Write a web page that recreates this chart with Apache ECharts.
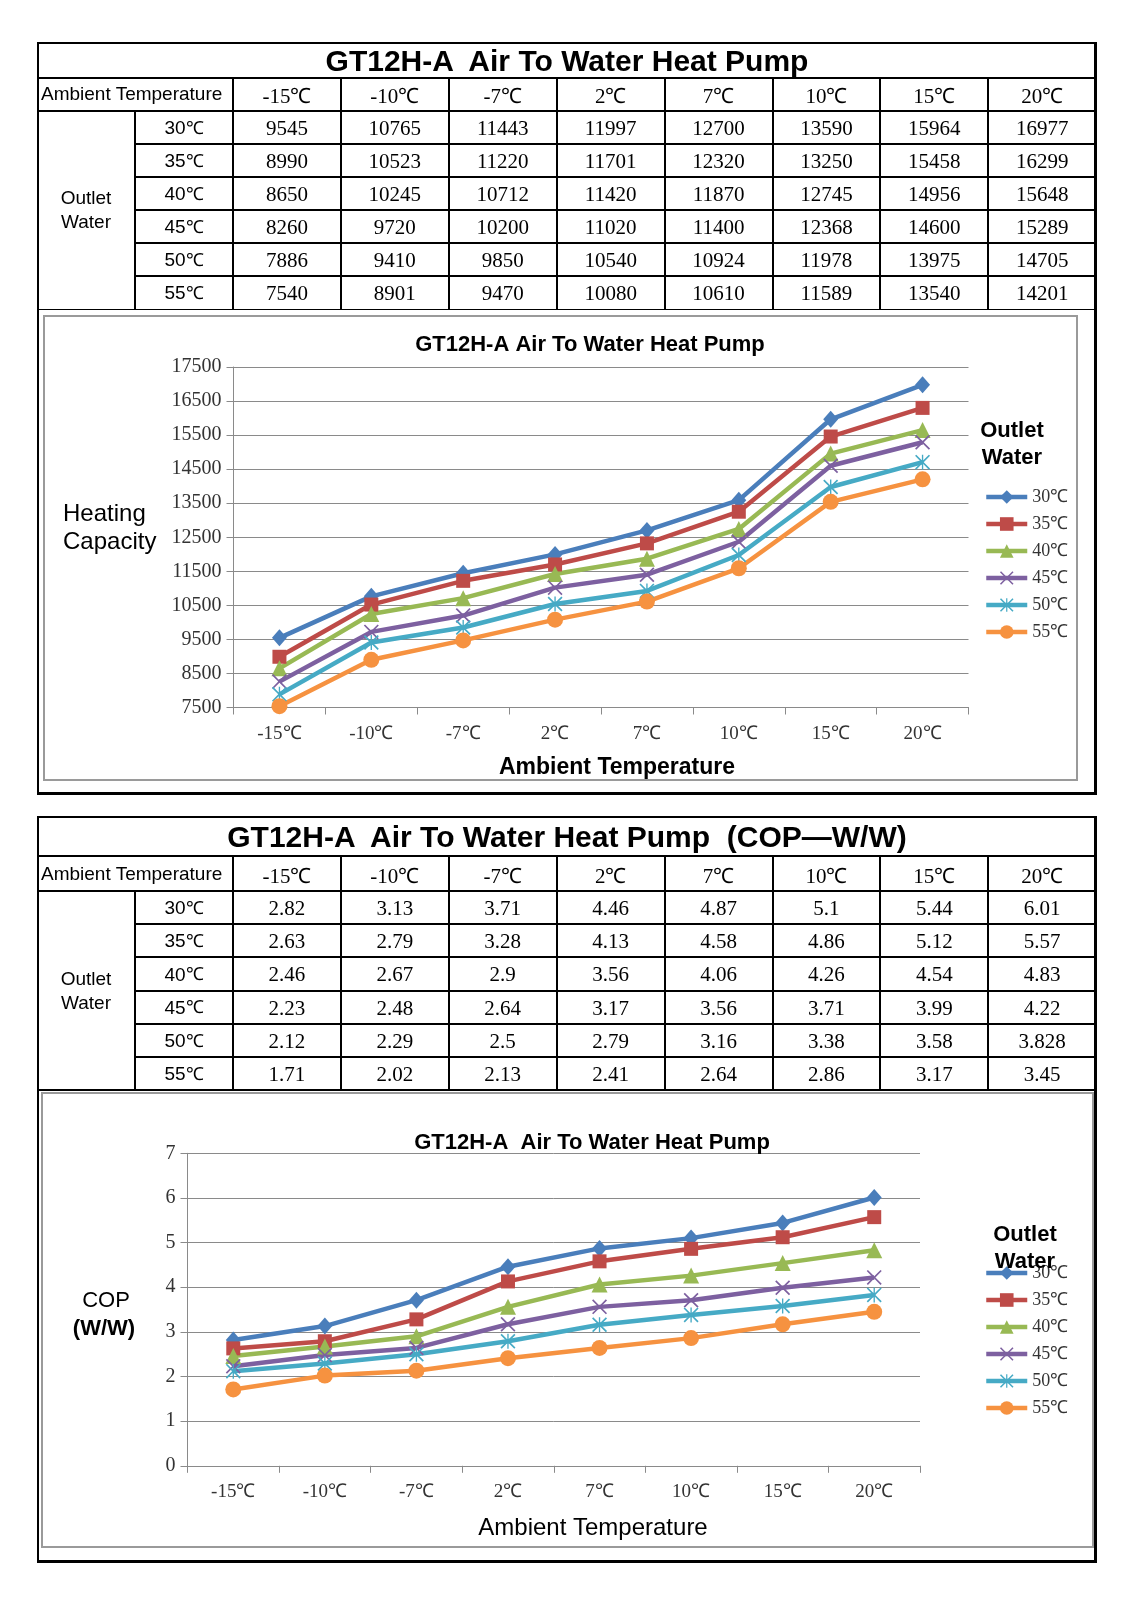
<!DOCTYPE html>
<html>
<head>
<meta charset="utf-8">
<script src="https://cdn.jsdelivr.net/npm/echarts@6/dist/echarts.min.js"></script>
<style>
html,body{margin:0;padding:0;background:#fff;}
#page{position:relative;width:1132px;height:1600px;overflow:hidden;background:#fff;}
#chart{position:absolute;left:0;top:0;width:1132px;height:1600px;}
#layer{position:absolute;left:0;top:0;width:1132px;height:1600px;pointer-events:none;}
.ln{position:absolute;background:#000;}
.tx{position:absolute;display:flex;align-items:center;justify-content:center;white-space:pre;color:#000;line-height:1.2;}
.bx{position:absolute;box-sizing:border-box;}
.rs{font-family:"Liberation Sans",Arial,sans-serif;font-size:19px;}
.rc{font-family:"Liberation Serif","Times New Roman",serif;font-size:18px;}
</style>
</head>
<body>
<div id="page"><div id="chart"></div><div id="layer"></div></div>
<script>
// ---------------- DATA ----------------
const categories = ['-15℃','-10℃','-7℃','2℃','7℃','10℃','15℃','20℃'];
const outletTemps = ['30℃','35℃','40℃','45℃','50℃','55℃'];

const capacity30 = [9545,10765,11443,11997,12700,13590,15964,16977];
const capacity35 = [8990,10523,11220,11701,12320,13250,15458,16299];
const capacity40 = [8650,10245,10712,11420,11870,12745,14956,15648];
const capacity45 = [8260,9720,10200,11020,11400,12368,14600,15289];
const capacity50 = [7886,9410,9850,10540,10924,11978,13975,14705];
const capacity55 = [7540,8901,9470,10080,10610,11589,13540,14201];

const cop30 = [2.82,3.13,3.71,4.46,4.87,5.1,5.44,6.01];
const cop35 = [2.63,2.79,3.28,4.13,4.58,4.86,5.12,5.57];
const cop40 = [2.46,2.67,2.9,3.56,4.06,4.26,4.54,4.83];
const cop45 = [2.23,2.48,2.64,3.17,3.56,3.71,3.99,4.22];
const cop50 = [2.12,2.29,2.5,2.79,3.16,3.38,3.58,3.828];
const cop55 = [1.71,2.02,2.13,2.41,2.64,2.86,3.17,3.45];

const capacityAxis = {min:7500, max:17500, interval:1000};
const copAxis = {min:0, max:7, interval:1};

const tableTitle1 = 'GT12H-A  Air To Water Heat Pump';
const tableTitle2 = 'GT12H-A  Air To Water Heat Pump  (COP—W/W)';
const chartTitle1 = 'GT12H-A Air To Water Heat Pump';
const chartTitle2 = 'GT12H-A  Air To Water Heat Pump';

// ---------------- STYLE ----------------
const SANS = '"Liberation Sans", Arial, sans-serif';
const SERIF = '"Liberation Serif", "Times New Roman", serif';
const PAL = ['#4A7EBB','#BE4B48','#98B954','#7D60A0','#46AAC5','#F69240'];
const GRAY = '#8a8a8a';
const X_PATH = 'path://M0,1.6L1.6,0L10,8.4L18.4,0L20,1.6L11.6,10L20,18.4L18.4,20L10,11.6L1.6,20L0,18.4L8.4,10Z';
const STAR_PATH = 'path://M0,1.6L1.6,0L10,8.4L18.4,0L20,1.6L11.6,10L20,18.4L18.4,20L10,11.6L1.6,20L0,18.4L8.4,10Z M9.1,0L10.9,0L10.9,20L9.1,20Z';
const SYMBOLS = ['diamond','rect','triangle',X_PATH,STAR_PATH,'circle'];
const SIZES = [[15,17],14,16,15,15,16];

// ---------------- TABLES (HTML) ----------------
const layer = document.getElementById('layer');
function el(cls, css, html){
  const d=document.createElement('div'); d.className=cls; d.style.cssText=css;
  if(html!==undefined) d.innerHTML=html; layer.appendChild(d); return d;
}
function hline(x1,x2,y,t){t=t||2; el('ln',`left:${x1}px;top:${y-t/2}px;width:${x2-x1}px;height:${t}px`);}
function vline(x,y1,y2,t){t=t||2; el('ln',`left:${x-t/2}px;top:${y1}px;width:${t}px;height:${y2-y1}px`);}
function text(x,y,w,h,html,css){el('tx',`left:${x}px;top:${y}px;width:${w}px;height:${h}px;${css||''}`,html);}

const XL=37, XR=1097, X1=135;
const XC=[]; for(let i=0;i<=8;i++) XC.push(233 + i*(1096.2-233)/8);

function buildTable(t){
  el('bx',`left:${XL}px;top:${t.top}px;width:${XR-XL}px;height:${t.outerBottom-t.top}px;border-left:2px solid #000;border-top:2px solid #000;border-right:3px solid #000;border-bottom:3px solid #000;`);
  el('bx',`left:${t.gray[0]}px;top:${t.gray[1]}px;width:${t.gray[2]-t.gray[0]}px;height:${t.gray[3]-t.gray[1]}px;border:2px solid #9a9a9a;`);
  const rows=[t.headerBottom]; for(let k=1;k<=6;k++) rows.push(t.headerBottom + k*t.rowH);
  hline(XL,XR,t.titleBottom);
  hline(XL,XR,t.headerBottom);
  for(let k=1;k<=5;k++) hline(X1,XR,rows[k]);
  hline(XL,XR,rows[6],1.5);
  for(let i=0;i<8;i++) vline(XC[i],t.titleBottom,rows[6]);
  vline(X1,t.headerBottom,rows[6]);
  text(XL,t.top+1,XR-XL,t.titleBottom-t.top,t.title,`font:bold 30px ${SANS};`);
  text(XL+4,t.titleBottom,XC[0]-XL-4,t.headerBottom-t.titleBottom,'Ambient Temperature',`font:19px ${SANS};justify-content:flex-start;`);
  for(let i=0;i<8;i++) text(XC[i],t.titleBottom+1,XC[i+1]-XC[i],t.headerBottom-t.titleBottom,categories[i],`font:21px ${SERIF};`);
  text(XL,t.headerBottom,X1-XL,rows[6]-t.headerBottom,'Outlet\nWater',`font:19px ${SANS};text-align:center;line-height:24px;`);
  for(let r=0;r<6;r++){
    const lab = outletTemps[r].replace('℃','');
    text(X1,rows[r]+1,XC[0]-X1,t.rowH,`<span class="rs">${lab}</span><span class="rc">℃</span>`,'');
    for(let c=0;c<8;c++) text(XC[c],rows[r]+1,XC[c+1]-XC[c],t.rowH,String(t.values[r][c]),`font:21px ${SERIF};`);
  }
}
buildTable({top:42,outerBottom:795,titleBottom:77.6,headerBottom:111.3,rowH:33,title:tableTitle1,
  values:[capacity30,capacity35,capacity40,capacity45,capacity50,capacity55],gray:[43,315,1078,781]});
buildTable({top:816,outerBottom:1563,titleBottom:856.4,headerBottom:891,rowH:33.2,title:tableTitle2,
  values:[cop30,cop35,cop40,cop45,cop50,cop55],gray:[41,1092,1094,1548]});

// ---------------- CHARTS (ECharts) ----------------
const chart = echarts.init(document.getElementById('chart'), null, {renderer:'canvas'});

function makeSeries(list, idx){
  return list.map((d,i)=>({
    type:'line', name:outletTemps[i], xAxisIndex:idx, yAxisIndex:idx, data:d,
    symbol:SYMBOLS[i], symbolSize:SIZES[i], showSymbol:true, showAllSymbol:true,
    lineStyle:{width:4.5,color:PAL[i]}, itemStyle:{color:PAL[i]},
    emphasis:{disabled:true}
  }));
}
function xAxis(gi){
  return {type:'category', gridIndex:gi, data:categories, boundaryGap:true,
    axisLine:{show:true,lineStyle:{color:GRAY,width:1}},
    axisTick:{show:true,length:7,interval:0,alignWithLabel:false,lineStyle:{color:GRAY}},
    axisLabel:{interval:0,margin:17,fontFamily:SERIF,fontSize:19,color:'#333'},
    splitLine:{show:false}};
}
function yAxis(gi, ax){
  return {type:'value', gridIndex:gi, min:ax.min, max:ax.max, interval:ax.interval,
    axisLine:{show:true,lineStyle:{color:GRAY,width:1}},
    axisTick:{show:true,length:7,lineStyle:{color:GRAY}},
    axisLabel:{margin:12,fontFamily:SERIF,fontSize:20,color:'#333',formatter:v=>String(v)},
    splitLine:{show:true,lineStyle:{color:GRAY,width:1}}};
}
function legend(top){
  return {data:outletTemps, orient:'vertical', left:984, top:top, padding:0,
    itemWidth:41, itemHeight:17, itemGap:9, selectedMode:false,
    lineStyle:{width:4.5},
    textStyle:{fontFamily:SERIF,fontSize:18,color:'#333'}};
}
function gtext(x,y,str,font,align){
  return {type:'text', x:x, y:y, z:100, style:{text:str, font:font, fill:'#000',
    align:align||'center', verticalAlign:'middle', textAlign:align||'center', textVerticalAlign:'middle'}};
}

const option = {
  animation:false,
  textStyle:{fontFamily:SANS},
  grid:[
    {left:233.5, top:367, width:735, height:340.5, containLabel:false},
    {left:187.5, top:1153.3, width:732.5, height:312.5, containLabel:false}
  ],
  xAxis:[xAxis(0), xAxis(1)],
  yAxis:[yAxis(0,capacityAxis), yAxis(1,copAxis)],
  legend:[legend(488), legend(1264)],
  series:[].concat(
    makeSeries([capacity30,capacity35,capacity40,capacity45,capacity50,capacity55],0),
    makeSeries([cop30,cop35,cop40,cop45,cop50,cop55],1)
  ),
  graphic:[
    gtext(590,345,chartTitle1,`bold 22px ${SANS}`),
    gtext(617,768,'Ambient Temperature',`bold 23px ${SANS}`),
    gtext(63,514,'Heating',`24px ${SANS}`,'left'),
    gtext(63,542,'Capacity',`24px ${SANS}`,'left'),
    gtext(1012,431,'Outlet',`bold 22px ${SANS}`),
    gtext(1012,458,'Water',`bold 22px ${SANS}`),

    gtext(592,1143,chartTitle2,`bold 22px ${SANS}`),
    gtext(593,1528,'Ambient Temperature',`24px ${SANS}`),
    gtext(106,1301,'COP',`22px ${SANS}`),
    gtext(104,1329,'(W/W)',`bold 22px ${SANS}`),
    gtext(1025,1235,'Outlet',`bold 22px ${SANS}`),
    gtext(1025,1262,'Water',`bold 22px ${SANS}`)
  ]
};
chart.setOption(option);
</script>
</body>
</html>
